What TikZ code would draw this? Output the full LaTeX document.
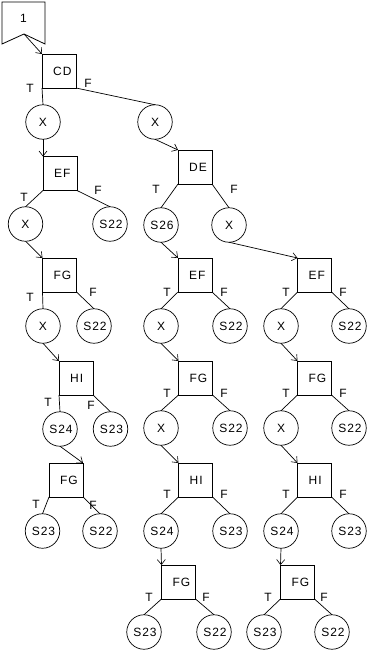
\documentclass[tikz,border=0pt]{standalone}
\usepackage{fontspec}
\setmainfont{Liberation Sans}[LetterSpace=8]
\usetikzlibrary{arrows.meta}
\begin{document}
\begin{tikzpicture}[x=1pt,y=-1pt,
  every node/.style={font=\fontsize{12}{14}\selectfont},
  box/.style={draw, line width=0.8pt, minimum size=34pt, inner sep=0pt, outer sep=0pt},
  boxtext/.style={anchor=west, inner sep=0pt, xshift=11pt},
  circ/.style={draw, circle, line width=0.7pt, minimum size=34.5pt, inner sep=0pt, outer sep=0pt},
  ctext/.style={xshift=1.5pt},
  lbl/.style={inner sep=0pt},
  edge/.style={line width=0.7pt},
  arr/.style={line width=0.7pt, -{Straight Barb[length=5pt,width=8pt,line width=0.6pt]}}
]
\useasboundingbox (0,0) rectangle (370,653);
% flag
\draw[line width=0.8pt] (2,2) -- (45,2) -- (45,44) -- (24,34) -- (2,44) -- cycle;
\coordinate (notch) at (24,34);
\node[lbl] (flagtext) at (23.5,18) {1};
% boxes
\node[box, label={[boxtext]west:CD}] (cd) at (59,71) {};
\node[box, label={[boxtext]west:EF}] (efL) at (60,173.5) {};
\node[box, label={[boxtext]west:FG}] (fgL) at (59.5,275) {};
\node[box, label={[boxtext]west:HI}] (hiL) at (76,378) {};
\node[box, label={[boxtext]west:FG}] (fgLb) at (66,480) {};
\node[box, label={[boxtext]west:DE}] (de) at (195,167) {};
\node[box, label={[boxtext]west:EF}] (efM) at (195,275) {};
\node[box, label={[boxtext]west:FG}] (fgM) at (195.5,378) {};
\node[box, label={[boxtext]west:HI}] (hiM) at (195.5,480) {};
\node[box, label={[boxtext]west:FG}] (fgMb) at (178.5,582) {};
\node[box, label={[boxtext]west:EF}] (efR) at (314.5,275) {};
\node[box, label={[boxtext]west:FG}] (fgR) at (314.5,378) {};
\node[box, label={[boxtext]west:HI}] (hiR) at (314.5,480) {};
\node[box, label={[boxtext]west:FG}] (fgRb) at (297.5,582) {};
% circles
\node[circ] (xa) at (43,122) {X};
\node[circ] (xb) at (155,122) {X};
\node[circ] (xL2) at (25.5,224) {X};
\node[circ] (sLa) at (110,224) {\hspace{2pt}S22};
\node[circ] (xL3) at (43,326) {X};
\node[circ] (sLb) at (94,326) {\hspace{2pt}S22};
\node[circ] (s24L) at (60,429) {\hspace{2pt}S24};
\node[circ] (s23L) at (110.5,429) {\hspace{2pt}S23};
\node[circ] (s23Lb) at (42.5,531) {\hspace{2pt}S23};
\node[circ] (s22Lb) at (100,531) {\hspace{2pt}S22};
\node[circ] (s26) at (161,225) {\hspace{2pt}S26};
\node[circ] (xM) at (229,225) {X};
\node[circ] (xM2) at (161,326) {X};
\node[circ] (s22M) at (230,326) {\hspace{2pt}S22};
\node[circ] (xM3) at (161,428) {X};
\node[circ] (s22Mb) at (230,428) {\hspace{2pt}S22};
\node[circ] (s24M) at (161,531) {\hspace{2pt}S24};
\node[circ] (s23M) at (230,531) {\hspace{2pt}S23};
\node[circ] (s23Mb) at (144,632) {\hspace{2pt}S23};
\node[circ] (s22Mc) at (214,632) {\hspace{2pt}S22};
\node[circ] (xR1) at (281,326) {X};
\node[circ] (s22R1) at (349,326) {\hspace{2pt}S22};
\node[circ] (xR2) at (281,428) {X};
\node[circ] (s22R2) at (349,428) {\hspace{2pt}S22};
\node[circ] (s24R) at (281,531) {\hspace{2pt}S24};
\node[circ] (s23R) at (349,531) {\hspace{2pt}S23};
\node[circ] (s23Rb) at (264,632) {\hspace{2pt}S23};
\node[circ] (s22Rb) at (332,632) {\hspace{2pt}S22};
% T / F labels
\node[lbl] (tcd) at (30,88) {T};   \node[lbl] (fcd) at (88,83) {F};
\node[lbl] (tefL) at (24,197) {T}; \node[lbl] (fefL) at (98,190) {F};
\node[lbl] (tfgL) at (30,297) {T}; \node[lbl] (ffgL) at (93,292) {F};
\node[lbl] (thiL) at (48,402) {T}; \node[lbl] (fhiL) at (91,405) {F};
\node[lbl] (tfgLb) at (36,504) {T}; \node[lbl] (ffgLb) at (93,505) {F};
\node[lbl] (tde) at (156,189) {T}; \node[lbl] (fde) at (234,189) {F};
\node[lbl] (tefM) at (167,292) {T}; \node[lbl] (fefM) at (224,292) {F};
\node[lbl] (tfgM) at (167,393) {T}; \node[lbl] (ffgM) at (224,393) {F};
\node[lbl] (thiM) at (167,494) {T}; \node[lbl] (fhiM) at (224,494) {F};
\node[lbl] (tfgMb) at (149,597) {T}; \node[lbl] (ffgMb) at (206,597) {F};
\node[lbl] (tefR) at (286,292) {T}; \node[lbl] (fefR) at (343,292) {F};
\node[lbl] (tfgR) at (286,393) {T}; \node[lbl] (ffgR) at (343,393) {F};
\node[lbl] (thiR) at (286,494) {T}; \node[lbl] (fhiR) at (343,494) {F};
\node[lbl] (tfgRb) at (268,597) {T}; \node[lbl] (ffgRb) at (324,597) {F};
% connectors
\draw[arr] (notch) -- (cd.north west);
\draw[edge] (cd.south west) -- (xa.north);
\draw[edge] (cd.south east) -- (xb.north);
\draw[arr] (xa.south) -- (efL.north west);
\draw[arr] (xb.south) -- (de.north west);
\draw[edge] (efL.south west) -- (xL2.north);
\draw[edge] (efL.south east) -- (sLa.north);
\draw[arr] (xL2.south) -- (fgL.north west);
\draw[edge] (fgL.south west) -- (xL3.north);
\draw[edge] (fgL.south east) -- (sLb.north);
\draw[arr] (xL3.south) -- (hiL.north west);
\draw[edge] (hiL.south west) -- (s24L.north);
\draw[edge] (hiL.south east) -- (s23L.north);
\draw[arr] (s24L.south) -- (fgLb.north east);
\draw[edge] (fgLb.south west) -- (s23Lb.north);
\draw[edge] (fgLb.south east) -- (s22Lb.north);
\draw[edge] (de.south west) -- (s26.north);
\draw[edge] (de.south east) -- (xM.north);
\draw[arr] (s26.south) -- (efM.north west);
\draw[arr] (xM.south) -- (efR.north west);
\draw[edge] (efM.south west) -- (xM2.north);
\draw[edge] (efM.south east) -- (s22M.north);
\draw[arr] (xM2.south) -- (fgM.north west);
\draw[edge] (fgM.south west) -- (xM3.north);
\draw[edge] (fgM.south east) -- (s22Mb.north);
\draw[arr] (xM3.south) -- (hiM.north west);
\draw[edge] (hiM.south west) -- (s24M.north);
\draw[edge] (hiM.south east) -- (s23M.north);
\draw[arr] (s24M.south) -- (fgMb.north west);
\draw[edge] (fgMb.south west) -- (s23Mb.north);
\draw[edge] (fgMb.south east) -- (s22Mc.north);
\draw[edge] (efR.south west) -- (xR1.north);
\draw[edge] (efR.south east) -- (s22R1.north);
\draw[arr] (xR1.south) -- (fgR.north west);
\draw[edge] (fgR.south west) -- (xR2.north);
\draw[edge] (fgR.south east) -- (s22R2.north);
\draw[arr] (xR2.south) -- (hiR.north west);
\draw[edge] (hiR.south west) -- (s24R.north);
\draw[edge] (hiR.south east) -- (s23R.north);
\draw[arr] (s24R.south) -- (fgRb.north west);
\draw[edge] (fgRb.south west) -- (s23Rb.north);
\draw[edge] (fgRb.south east) -- (s22Rb.north);
\end{tikzpicture}
\end{document}
